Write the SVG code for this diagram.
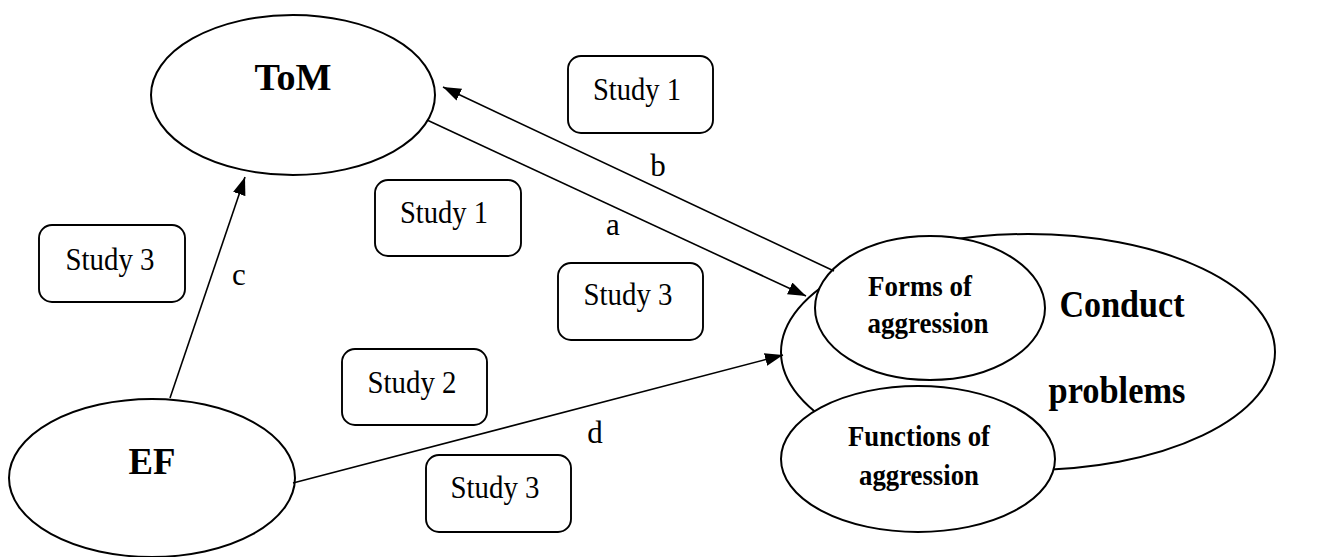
<svg xmlns="http://www.w3.org/2000/svg" width="1328" height="557" viewBox="0 0 1328 557">
  <style>
    .node { fill: #fff; stroke: #000; stroke-width: 2; }
    .box { fill: #fff; stroke: #000; stroke-width: 1.9; }
    .edge { fill: none; stroke: #000; stroke-width: 1.6; marker-end: url(#arrow); }
    text { font-family: "Liberation Serif", "Times New Roman", serif; text-anchor: middle; fill: #000; }
    .big { font-weight: bold; font-size: 37px; }
    .sub { font-weight: bold; font-size: 29px; }
    .study { font-size: 32px; }
    .lbl { font-size: 31px; }
  </style>
  <defs>
    <marker id="arrow" markerUnits="userSpaceOnUse" markerWidth="20" markerHeight="14" refX="18" refY="6.5" orient="auto">
      <path d="M0,0 L18,6.5 L0,13 z" fill="#000"/>
    </marker>
  </defs>
  <rect width="1328" height="557" fill="#fff"/>

  <!-- construct nodes -->
  <g id="tom">
    <ellipse class="node" cx="293" cy="95" rx="142" ry="80"/>
    <text class="big" x="293" y="90" textLength="77" lengthAdjust="spacingAndGlyphs">ToM</text>
  </g>
  <g id="ef">
    <ellipse class="node" cx="152" cy="478" rx="143" ry="79"/>
    <text class="big" x="152" y="474" textLength="47" lengthAdjust="spacingAndGlyphs">EF</text>
  </g>
  <g id="conduct-problems">
    <ellipse class="node" cx="1028" cy="352" rx="247" ry="118"/>
    <text class="big" x="1122" y="317" textLength="125" lengthAdjust="spacingAndGlyphs">Conduct</text>
    <text class="big" x="1117" y="403" textLength="137" lengthAdjust="spacingAndGlyphs">problems</text>
  </g>
  <g id="forms">
    <ellipse class="node" cx="930" cy="308" rx="115" ry="72"/>
    <text class="sub" x="920" y="296" textLength="104" lengthAdjust="spacingAndGlyphs">Forms of</text>
    <text class="sub" x="928" y="333" textLength="121" lengthAdjust="spacingAndGlyphs">aggression</text>
  </g>
  <g id="functions">
    <ellipse class="node" cx="918" cy="459" rx="137" ry="73"/>
    <text class="sub" x="919" y="446" textLength="142" lengthAdjust="spacingAndGlyphs">Functions of</text>
    <text class="sub" x="919" y="485" textLength="120" lengthAdjust="spacingAndGlyphs">aggression</text>
  </g>

  <!-- study boxes -->
  <g id="study1-top">
    <rect class="box" x="568" y="56" width="145" height="77" rx="13"/>
    <text class="study" x="637" y="100" textLength="88" lengthAdjust="spacingAndGlyphs">Study 1</text>
  </g>
  <g id="study1-mid">
    <rect class="box" x="375" y="180" width="146" height="76" rx="13"/>
    <text class="study" x="444" y="223" textLength="88" lengthAdjust="spacingAndGlyphs">Study 1</text>
  </g>
  <g id="study3-mid">
    <rect class="box" x="558" y="263" width="145" height="77" rx="13"/>
    <text class="study" x="628" y="305" textLength="89" lengthAdjust="spacingAndGlyphs">Study 3</text>
  </g>
  <g id="study3-left">
    <rect class="box" x="39" y="225" width="146" height="77" rx="13"/>
    <text class="study" x="110" y="270" textLength="89" lengthAdjust="spacingAndGlyphs">Study 3</text>
  </g>
  <g id="study2">
    <rect class="box" x="342" y="349" width="145" height="76" rx="13"/>
    <text class="study" x="412" y="393" textLength="89" lengthAdjust="spacingAndGlyphs">Study 2</text>
  </g>
  <g id="study3-bottom">
    <rect class="box" x="426" y="455" width="145" height="77" rx="13"/>
    <text class="study" x="495" y="498" textLength="89" lengthAdjust="spacingAndGlyphs">Study 3</text>
  </g>

  <!-- paths between constructs -->
  <g id="connectors">
    <line class="edge" x1="427" y1="120" x2="806" y2="296"/>
    <line class="edge" x1="834" y1="271" x2="443" y2="87"/>
    <line class="edge" x1="170" y1="398" x2="245" y2="177"/>
    <line class="edge" x1="293" y1="483" x2="783" y2="355"/>
    <text class="lbl" x="613" y="235">a</text>
    <text class="lbl" x="658" y="176">b</text>
    <text class="lbl" x="239" y="285">c</text>
    <text class="lbl" x="595" y="443">d</text>
  </g>
</svg>
